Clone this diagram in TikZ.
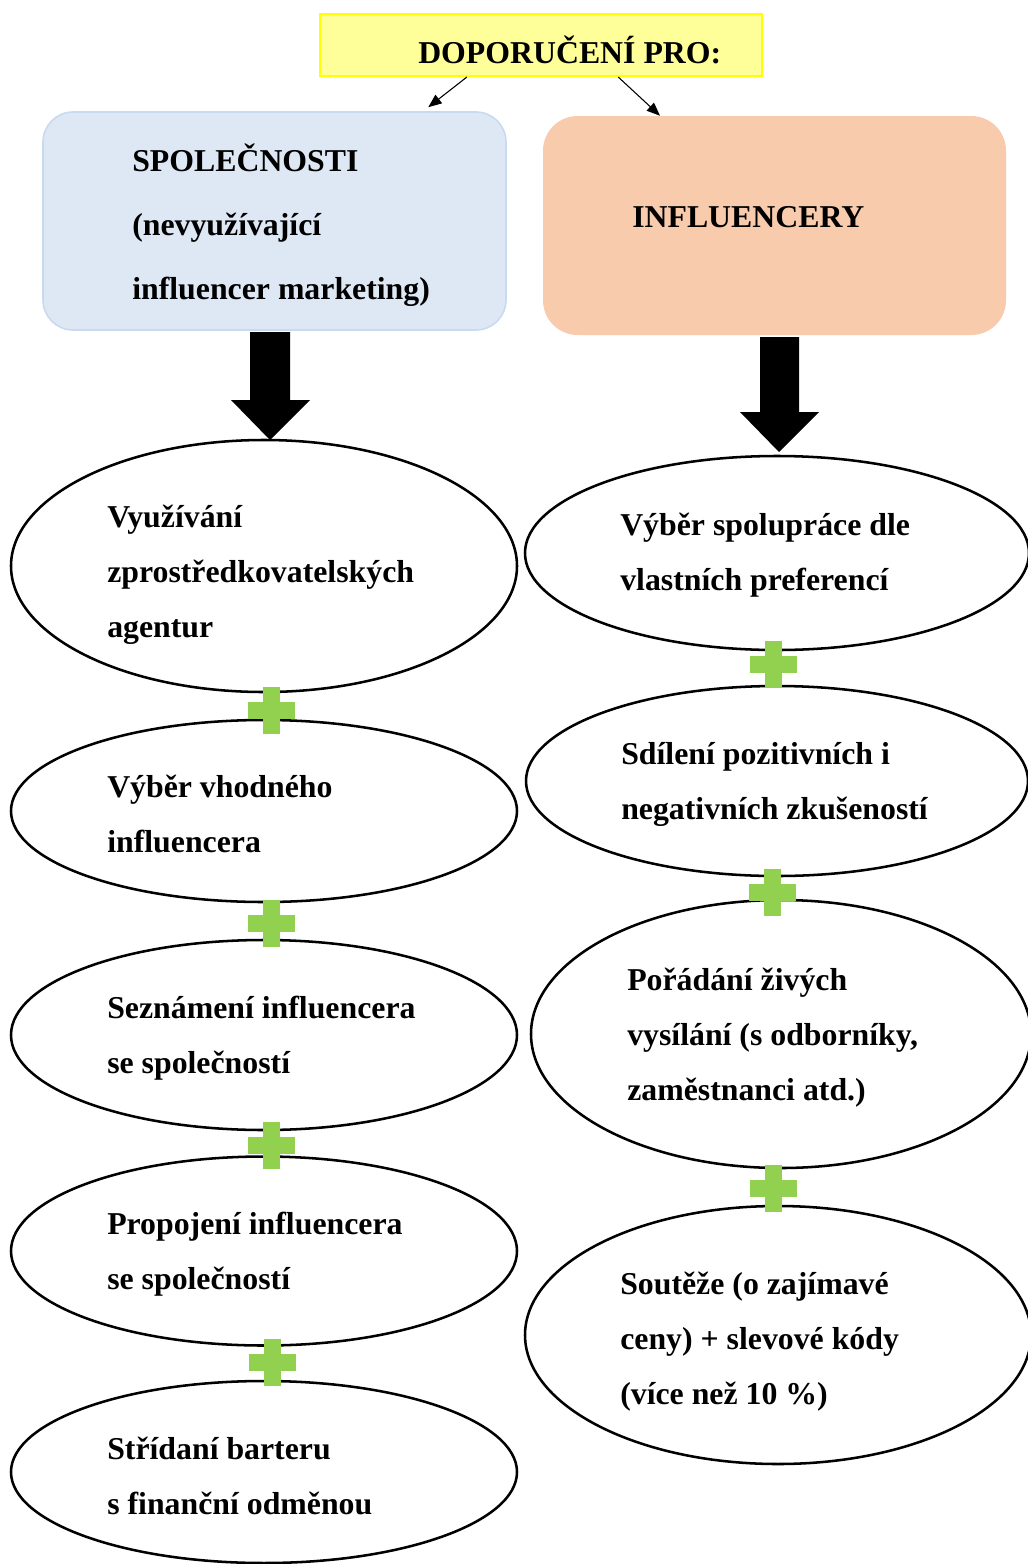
\documentclass[tikz,border=0pt]{standalone}
\usepackage{fontspec}
\setmainfont{Liberation Serif}
\usetikzlibrary{arrows.meta,shapes.geometric,calc}
\definecolor{ybox}{HTML}{FFFF99}
\definecolor{yline}{HTML}{FFFF00}
\definecolor{bbox}{HTML}{DEE8F5}
\definecolor{bline}{HTML}{C9DAF0}
\definecolor{obox}{HTML}{F8CBAD}
\definecolor{plusg}{HTML}{92D050}
\begin{document}
\begin{tikzpicture}[x=0.75pt,y=-0.75pt,
  ell/.style={draw=black, line width=1.9pt, ellipse, inner sep=0pt},
  etxt/.style={anchor=north west, inner sep=0pt, align=left, yshift=28.875pt,
    font=\fontsize{23.85}{41.25}\selectfont\bfseries},
  btxt/.style={anchor=north west, inner sep=0pt, align=left, yshift=33.6pt,
    font=\fontsize{23.85}{48}\selectfont\bfseries},
  thin/.style={line width=0.8pt, -{Triangle[length=10pt,width=8pt]}},
  blockarrow/.style={fill=black},
  plus/.style={fill=plusg}
]
\useasboundingbox (0,0) rectangle (1028,1564);
\clip (0,0) rectangle (1028,1564);

% top boxes
\node[draw=yline, fill=ybox, line width=1.6pt, minimum width=442*0.75pt, minimum height=62*0.75pt, inner sep=0pt] (title) at (541,45) {};
\node[anchor=base west, inner sep=0pt, font=\fontsize{23.85}{30}\selectfont\bfseries] (titletxt) at (418,63) {DOPORUČENÍ PRO:};

\node[draw=bline, fill=bbox, line width=1.2pt, rounded corners=22.5pt, minimum width=463*0.75pt, minimum height=218*0.75pt, inner sep=0pt] (blue) at (274.5,221) {};
\node[btxt] (bluetxt) at (132,171) {\strut SPOLEČNOSTI\\\strut (nevyužívající\\\strut influencer marketing)};

\node[fill=obox, rounded corners=26pt, minimum width=463*0.75pt, minimum height=219*0.75pt, inner sep=0pt] (orange) at (774.5,225.5) {};
\node[anchor=base west, inner sep=0pt, font=\fontsize{23.85}{30}\selectfont\bfseries] (orangetxt) at (632,227) {INFLUENCERY};

% thin arrows
\draw[thin] ($(title.south west)!0.333!(title.south east)$) -- ($(blue.north west)!0.831!(blue.north east)+(0,-4)$);
\draw[thin] ($(title.south west)!0.674!(title.south east)$) -- ($(orange.north west)!0.253!(orange.north east)$);

% left ellipses
\node[ell, minimum width=506*0.75pt, minimum height=252*0.75pt] (l1) at (264,566) {};
\node[ell, minimum width=506*0.75pt, minimum height=182*0.75pt] (l2) at (264,811) {};
\node[ell, minimum width=506*0.75pt, minimum height=190*0.75pt] (l3) at (264,1035) {};
\node[ell, minimum width=506*0.75pt, minimum height=189*0.75pt] (l4) at (264,1251) {};
\node[ell, minimum width=506*0.75pt, minimum height=182*0.75pt] (l5) at (264,1472) {};

\node[etxt] (l1t) at (107,527) {\strut Využívání\\\strut zprostředkovatelských\\\strut agentur};
\node[etxt] (l2t) at (107,797) {\strut Výběr vhodného\\\strut influencera};
\node[etxt] (l3t) at (107,1018) {\strut Seznámení influencera\\\strut se společností};
\node[etxt] (l4t) at (107,1234) {\strut Propojení influencera\\\strut se společností};
\node[etxt] (l5t) at (107,1459) {\strut Střídaní barteru\\\strut s finanční odměnou};

% right ellipses
\node[ell, minimum width=504*0.75pt, minimum height=194*0.75pt] (r1) at (777,553) {};
\node[ell, minimum width=502*0.75pt, minimum height=190*0.75pt] (r2) at (777,781) {};
\node[ell, minimum width=500*0.75pt, minimum height=268*0.75pt] (r3) at (781,1034) {};
\node[ell, minimum width=506*0.75pt, minimum height=258*0.75pt] (r4) at (778,1335) {};

\node[etxt] (r1t) at (620,535) {\strut Výběr spolupráce dle\\\strut vlastních preferencí};
\node[etxt] (r2t) at (621,764) {\strut Sdílení pozitivních i\\\strut negativních zkušeností};
\node[etxt] (r3t) at (627,990) {\strut Pořádání živých\\\strut vysílání (s odborníky,\\\strut zaměstnanci atd.)};
\node[etxt] (r4t) at (620,1294) {\strut Soutěže (o zajímavé\\\strut ceny) + slevové kódy\\\strut (více než 10 \%)};

% block arrows
\fill[blockarrow] (250,332) -- (290,332) -- (290,400) -- (310,400) -- (270,440) -- (231,400) -- (250,400) -- cycle;
\fill[blockarrow] (760,337) -- (799,337) -- (799,412) -- (819,412) -- (779,452) -- (740,412) -- (760,412) -- cycle;

% plus signs
\foreach \cx/\cy in {271/710, 271/923, 271/1145, 272/1362, 773/664, 772/892, 773/1188}{
  \fill[plus] (\cx-23.5,\cy-8.5) rectangle (\cx+23.5,\cy+8.5);
  \fill[plus] (\cx-8.5,\cy-23.5) rectangle (\cx+8.5,\cy+23.5);
}
\end{tikzpicture}
\end{document}
